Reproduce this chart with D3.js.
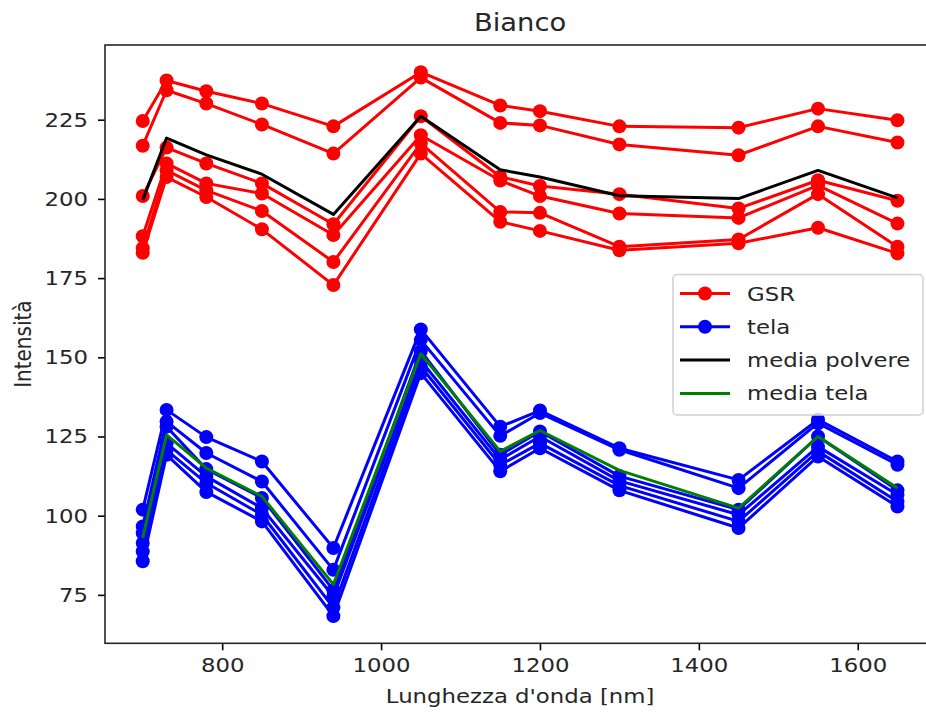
<!DOCTYPE html>
<html>
<head>
<meta charset="utf-8">
<script src="https://cdn.jsdelivr.net/npm/d3@7"></script>
<style>
  html, body { margin: 0; padding: 0; background: #fff; }
  svg { display: block; font-family: "DejaVu Sans", sans-serif; }
</style>
</head>
<body>
<svg id="chart" width="926" height="712"></svg>
<script>
// Wavelengths (nm)
const wavelengths = [700, 730, 780, 850, 940, 1050, 1150, 1200, 1300, 1450, 1550, 1650];

// GSR spectra
const gsr1 = [224.6, 237.4, 234.0, 230.1, 222.9, 240.0, 229.5, 227.7, 222.9, 222.5, 228.5, 224.8];
const gsr2 = [216.8, 234.3, 230.1, 223.5, 214.3, 238.3, 224.0, 223.2, 217.2, 213.8, 222.9, 217.8];
const gsr3 = [200.9, 216.2, 211.2, 204.9, 192.0, 226.1, 207.0, 204.1, 201.5, 197.0, 205.9, 199.4];
const gsr4 = [188.2, 211.2, 204.9, 201.7, 188.6, 220.1, 205.8, 200.9, 195.4, 194.0, 204.3, 192.2];
const gsr5 = [184.4, 209.0, 202.7, 196.2, 180.1, 217.5, 195.9, 195.6, 184.9, 187.2, 201.5, 184.9];
const gsr6 = [183.0, 206.9, 200.6, 190.4, 172.8, 214.3, 192.8, 189.9, 183.8, 186.0, 190.9, 182.8];

// Canvas (tela) spectra
const tela1 = [101.9, 133.4, 124.8, 117.1, 89.8, 158.8, 128.1, 133.2, 121.3, 111.3, 130.3, 117.1];
const tela2 = [96.6, 129.7, 119.8, 110.8, 82.9, 155.5, 125.2, 132.4, 120.8, 108.7, 129.2, 116.1];
const tela3 = [94.5, 128.1, 114.7, 105.6, 76.5, 152.0, 119.2, 126.6, 112.5, 101.9, 125.0, 108.0];
const tela4 = [91.4, 122.9, 112.4, 102.4, 74.5, 149.0, 117.7, 125.0, 111.0, 100.3, 121.8, 106.6];
const tela5 = [88.7, 120.7, 110.3, 100.3, 71.0, 147.1, 116.0, 122.9, 109.5, 98.2, 120.3, 104.5];
const tela6 = [85.6, 119.2, 107.5, 98.2, 68.3, 145.0, 114.0, 121.3, 108.0, 96.1, 118.7, 102.9];

// Mean curves
const mediaPolvere = [199.7, 219.2, 213.9, 207.8, 195.1, 226.1, 209.2, 206.9, 201.0, 200.1, 209.0, 200.3];
const mediaTela = [93.0, 125.5, 115.0, 106.1, 78.3, 151.1, 120.3, 126.9, 114.3, 102.4, 125.0, 108.7];

// Tick values and labels
const xTicks = [800, 1000, 1200, 1400, 1600];
const yTicks = [75, 100, 125, 150, 175, 200, 225];
const legendLabels = ["GSR", "tela", "media polvere", "media tela"];

const gsrSeries = [gsr1, gsr2, gsr3, gsr4, gsr5, gsr6];
const telaSeries = [tela1, tela2, tela3, tela4, tela5, tela6];

const svg = d3.select("#chart");
const plot = { left: 105, right: 935.2, top: 45, bottom: 643.3 };
const textStretch = 1.14;   // text is drawn slightly wider than tall
const markerR = 7;

// Autoscale with 5% margins on both axes
function padded(ext) {
  const m = (ext[1] - ext[0]) * 0.05;
  return [ext[0] - m, ext[1] + m];
}
const allY = [].concat(...gsrSeries, ...telaSeries, mediaPolvere, mediaTela);
const x = d3.scaleLinear().domain(padded(d3.extent(wavelengths))).range([plot.left, plot.right]);
const y = d3.scaleLinear().domain(padded(d3.extent(allY))).range([plot.bottom, plot.top]);

const line = d3.line().x((d, i) => x(wavelengths[i])).y(d => y(d));
const g = svg.append("g");

function drawSeries(values, color, markers) {
  g.append("path")
    .attr("d", line(values))
    .attr("fill", "none")
    .attr("stroke", color)
    .attr("stroke-width", 3)
    .attr("stroke-linejoin", "round")
    .attr("stroke-linecap", "butt");
  if (markers) {
    g.selectAll(null).data(values).enter().append("circle")
      .attr("cx", (d, i) => x(wavelengths[i]))
      .attr("cy", d => y(d))
      .attr("r", markerR)
      .attr("fill", color);
  }
}

gsrSeries.forEach(s => drawSeries(s, "#ff0000", true));
telaSeries.forEach(s => drawSeries(s, "#0000ff", true));
drawSeries(mediaPolvere, "#000000", false);
drawSeries(mediaTela, "#008000", false);

// Axes
const xAxis = d3.axisBottom(x).tickValues(xTicks).tickSize(7).tickPadding(8).tickFormat(d3.format("d"));
const yAxis = d3.axisLeft(y).tickValues(yTicks).tickSize(7).tickPadding(8).tickFormat(d3.format("d"));

const gx = svg.append("g").attr("transform", `translate(0,${plot.bottom})`).call(xAxis);
const gy = svg.append("g").attr("transform", `translate(${plot.left},0)`).call(yAxis);
[gx, gy].forEach(a => {
  a.select(".domain").remove();
  a.selectAll(".tick line").attr("stroke", "#000").attr("stroke-width", 1.6);
  a.selectAll(".tick text").attr("fill", "#262626").style("font-size", "20px")
    .style("font-family", "'DejaVu Sans', sans-serif")
    .attr("transform", `scale(${textStretch},1)`);
});

// Frame
svg.append("rect")
  .attr("x", plot.left).attr("y", plot.top)
  .attr("width", plot.right - plot.left).attr("height", plot.bottom - plot.top)
  .attr("fill", "none").attr("stroke", "#262626").attr("stroke-width", 1.6);

// Title and axis labels
function label(tx, ty, text, size, rotate) {
  svg.append("text")
    .attr("transform", `translate(${tx},${ty}) scale(${textStretch},1)` + (rotate ? " rotate(-90)" : ""))
    .attr("text-anchor", "middle").style("font-size", size + "px").attr("fill", "#262626")
    .text(text);
}
const cx = (plot.left + plot.right) / 2;
label(cx, 30.5, "Bianco", 24, false);
label(cx, 703, "Lunghezza d'onda [nm]", 20, false);
label(31, (plot.top + plot.bottom) / 2, "Intensità", 20, true);

// Legend
const legend = svg.append("g").attr("transform", "translate(673,274.5)");
legend.append("rect")
  .attr("width", 250).attr("height", 140.5).attr("rx", 4)
  .attr("fill", "rgba(255,255,255,0.8)").attr("stroke", "#d0d0d0").attr("stroke-width", 1.5);

const legendItems = [
  { label: legendLabels[0], color: "#ff0000", marker: true },
  { label: legendLabels[1], color: "#0000ff", marker: true },
  { label: legendLabels[2], color: "#000000", marker: false },
  { label: legendLabels[3], color: "#008000", marker: false }
];
legendItems.forEach((it, i) => {
  const cy = 19 + i * 33.3;
  const row = legend.append("g").attr("transform", `translate(0,${cy})`);
  row.append("line").attr("x1", 7).attr("x2", 57).attr("y1", 0).attr("y2", 0)
    .attr("stroke", it.color).attr("stroke-width", 3);
  if (it.marker) row.append("circle").attr("cx", 32).attr("cy", 0).attr("r", markerR).attr("fill", it.color);
  row.append("text").attr("transform", `translate(74,7) scale(${textStretch},1)`)
    .style("font-size", "20px").attr("fill", "#262626")
    .text(it.label);
});
</script>
</body>
</html>
